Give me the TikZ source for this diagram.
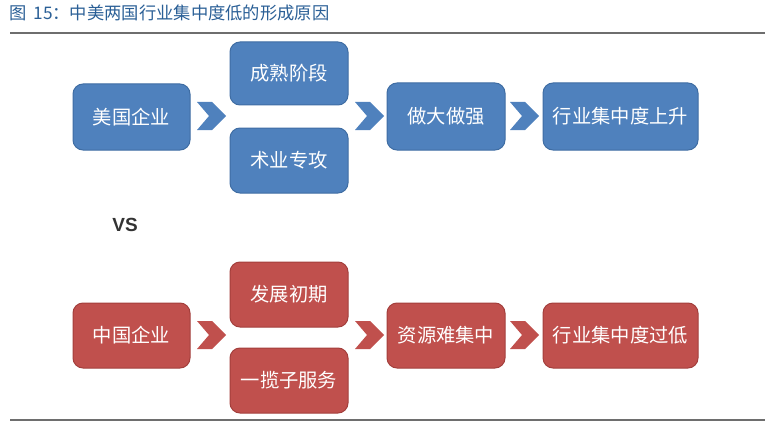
\documentclass[tikz,border=0pt]{standalone}
\usepackage{fontspec}
\newfontfamily\cjk{Noto Sans CJK SC}
\newfontfamily\lat{Liberation Sans}
\definecolor{bfill}{HTML}{4F81BD}
\definecolor{bdraw}{HTML}{3F6DA3}
\definecolor{rfill}{HTML}{C0504D}
\definecolor{rdraw}{HTML}{A33F3C}
\definecolor{ttl}{HTML}{2A5F96}
\definecolor{rule}{HTML}{6E6E6E}
\tikzset{
  bx/.style={rounded corners=10pt, draw=bdraw, line width=1pt, fill=bfill, text=white,
    font=\cjk\fontsize{19.3}{22}\selectfont, inner sep=0pt, anchor=center},
  blue/.style={bx},
  red/.style={bx, draw=rdraw, fill=rfill},
  pics/chev/.style={code={
    \fill[#1] (-14,-14) -- (1,-14) -- (15,0) -- (1,14) -- (-14,14) -- (-2,0) -- cycle;}}
}
\begin{document}
\begin{tikzpicture}[x=1pt,y=-1pt]
\useasboundingbox (0,0) rectangle (770,425);
% title and rules
\node[anchor=west, text=ttl, font=\cjk\fontsize{17.3}{20}\selectfont, inner sep=0pt] (title) at (9,13) {图\hspace{7pt}15：中美两国行业集中度低的形成原因};
\draw[rule, line width=1.3pt] (10,33) coordinate (r1a) -- (765,33) coordinate (r1b);
\draw[rule, line width=1.3pt] (10,420) coordinate (r2a) -- (765,420) coordinate (r2b);
% US row
\node[blue, minimum width=117pt, minimum height=66pt] (us) at (131.5,117) {美国企业};
\node[blue, minimum width=118pt, minimum height=63pt] (mature) at (289,73.5) {成熟阶段};
\node[blue, minimum width=118pt, minimum height=65pt] (spec) at (289,160.5) {术业专攻};
\node[blue, minimum width=118pt, minimum height=67pt] (big) at (446,116.5) {做大做强};
\node[blue, minimum width=155pt, minimum height=67pt] (rise) at (620.5,116.5) {行业集中度上升};
\pic at (211,116) {chev=bfill};
\pic at (369,116) {chev=bfill};
\pic at (524,116) {chev=bfill};
% VS
\node[font=\lat\bfseries\fontsize{19}{22}\selectfont, text=black!80, inner sep=0pt] (vs) at (125,225) {VS};
% China row
\node[red, minimum width=117pt, minimum height=65pt] (cn) at (131.5,335.5) {中国企业};
\node[red, minimum width=118pt, minimum height=65pt] (early) at (289,294.5) {发展初期};
\node[red, minimum width=118pt, minimum height=65pt] (pkg) at (289,380.5) {一揽子服务};
\node[red, minimum width=118pt, minimum height=65pt] (res) at (446,335.5) {资源难集中};
\node[red, minimum width=155pt, minimum height=65pt] (low) at (620.5,335.5) {行业集中度过低};
\pic at (211,335) {chev=rfill};
\pic at (369,335) {chev=rfill};
\pic at (524,335) {chev=rfill};
\end{tikzpicture}
\end{document}
